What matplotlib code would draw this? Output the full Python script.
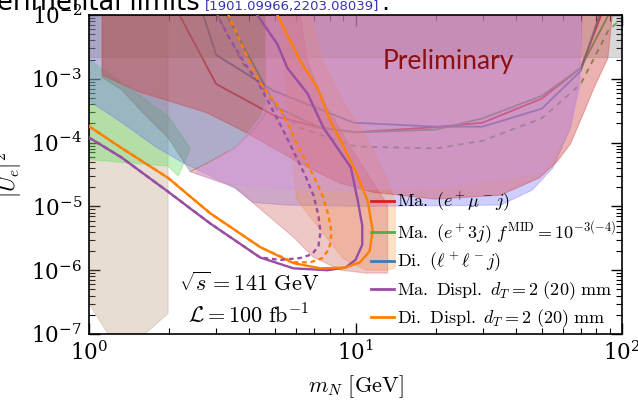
import matplotlib
matplotlib.use('Agg')
import matplotlib.pyplot as plt

plt.rcParams['mathtext.fontset'] = 'cm'
plt.rcParams['font.family'] = 'DejaVu Serif'

# --- data ---
# prompt searches
ma_emu_m = [2.0, 3.0, 5.0, 7.4, 10, 20, 30, 50, 70, 85]
ma_emu_u = [2.0e-2, 8.3e-4, 2.6e-4, 1.7e-4, 1.45e-4, 1.75e-4, 2.05e-4, 4.9e-4, 1.48e-3, 1.2e-2]

ma_e3j_m = [3.0, 5.05, 7.2, 10, 20, 30, 50, 70, 90]
ma_e3j_u = [2.0e-2, 3.6e-4, 1.78e-4, 1.44e-4, 1.6e-4, 2.4e-4, 5.4e-4, 1.48e-3, 1.1e-2]
ma_e3j_m4 = [3.03, 3.79, 4.5, 5.09, 6.2, 10, 20, 30, 50, 70, 88.6, 100]
ma_e3j_u4 = [1.0e-2, 1.7e-3, 7.2e-4, 3.2e-4, 1.7e-4, 8.7e-5, 8.1e-5, 1.07e-4, 2.4e-4, 8.3e-4, 5.6e-3, 9.0e-3]

di_ll_m = [2.5, 3.0, 4.92, 9.85, 20, 30, 50, 70, 85]
di_ll_u = [2.5e-2, 2.37e-3, 6.5e-4, 2.05e-4, 1.78e-4, 1.78e-4, 3.4e-4, 1.33e-3, 1.5e-2]

# displaced searches, d_T = 2 mm
ma_d2_m = [1.0, 1.32, 1.98, 2.85, 4.39, 5.85, 7.85, 9.17, 10.0, 10.6, 10.6, 10.2, 9.6, 7.59, 6.6, 5.55, 5.09, 4.28]
ma_d2_u = [1.2e-4, 5.9e-5, 1.7e-5, 5.4e-6, 1.58e-6, 1.07e-6, 1.0e-6, 1.1e-6, 1.45e-6, 2.5e-6, 5.0e-6, 1.23e-5, 4.1e-5, 1.7e-4, 5.9e-4, 1.48e-3, 3.5e-3, 1.0e-2]
di_d2_m = [1.0, 1.32, 1.98, 2.85, 4.39, 5.85, 7.39, 9.17, 10.4, 11.3, 11.6, 11.1, 10.0, 8.8, 8.05, 7.2, 6.2, 5.09]
di_d2_u = [1.8e-4, 8.3e-5, 2.8e-5, 7.8e-6, 2.3e-6, 1.29e-6, 1.07e-6, 1.1e-6, 1.33e-6, 2.0e-6, 4.2e-6, 1.23e-5, 3.6e-5, 1.07e-4, 2.2e-4, 7.2e-4, 1.9e-3, 1.0e-2]
# displaced searches, d_T = 20 mm
ma_d20_m = [1.0, 1.32, 1.98, 2.85, 4.39, 5.23, 6.2, 6.88, 7.26, 7.39, 7.26, 6.96, 6.49, 5.95, 5.36, 4.79, 4.28, 3.79, 3.3, 3.03]
ma_d20_u = [1.2e-4, 5.9e-5, 1.7e-5, 5.4e-6, 1.58e-6, 1.45e-6, 1.55e-6, 1.78e-6, 2.4e-6, 3.9e-6, 7.2e-6, 1.48e-5, 3.0e-5, 6.3e-5, 1.54e-4, 3.8e-4, 9.3e-4, 1.9e-3, 5.0e-3, 1.0e-2]
di_d20_m = [1.0, 1.32, 1.98, 2.85, 4.39, 5.85, 6.77, 7.52, 7.98, 8.13, 7.92, 7.52, 6.96, 6.2, 5.68, 5.2, 4.7, 4.28, 3.69, 3.33]
di_d20_u = [1.8e-4, 8.3e-5, 2.8e-5, 7.8e-6, 2.3e-6, 1.33e-6, 1.33e-6, 1.55e-6, 2.2e-6, 3.9e-6, 7.2e-6, 1.48e-5, 3.0e-5, 7.5e-5, 1.65e-4, 3.5e-4, 5.9e-4, 1.0e-3, 3.9e-3, 1.0e-2]

# existing limits (shaded)
tan_m = [1.0, 1.0, 1.18, 1.62, 1.98, 1.98]
tan_u = [1e-2, 3e-7, 1e-7, 1e-7, 2.1e-7, 1e-2]
grey_m = [1.0, 100, 100, 1.0]
grey_u = [1e-2, 1e-2, 2.2e-3, 2.2e-3]
green_m = [1.0, 1.5, 2.0, 2.4, 2.16, 1.98, 1.0]
green_u = [2e-3, 6e-4, 2.5e-4, 8e-5, 3.0e-5, 4.3e-5, 5.4e-5]
blue_m = [1.0, 1.0, 1.32, 1.77, 2.22, 2.73, 3.54, 4.14, 5.5, 11, 35, 46, 55, 64, 69, 71]
blue_u = [1e-2, 4.5e-4, 2.1e-4, 8.7e-5, 5.0e-5, 3.3e-5, 1.9e-5, 1.15e-5, 1.05e-5, 1.0e-5, 1.05e-5, 1.8e-5, 4e-5, 1.7e-4, 8e-4, 1e-2]
g2_m = [1.12, 1.12, 1.32, 1.62, 1.98, 2.4, 2.73, 3.54, 4.2, 4.6, 4.6]
g2_u = [1e-2, 1.05e-3, 6.8e-4, 2.75e-4, 1.2e-4, 3.5e-5, 4.6e-5, 8.3e-5, 1.7e-4, 2.8e-4, 1e-2]
salmon_m = [2.4, 3.54, 4.14, 5.85, 6.95, 8.8, 11, 13.2, 13.2, 11.7, 9.6, 7.85, 6.96, 6.6, 6.2, 4.6, 4.6, 4.2, 3.54, 2.73]
salmon_u = [3.5e-5, 2.0e-5, 1.12e-5, 3.3e-6, 1.6e-6, 1.0e-6, 9e-7, 9e-7, 1.05e-5, 2.3e-5, 8.3e-5, 3.5e-4, 1.05e-3, 1.9e-3, 1e-2, 1e-2, 2.8e-4, 1.7e-4, 8.3e-5, 4.6e-5]
peach_m = [6.0, 9.0, 11, 13.2, 14.1, 14.1, 13.0, 11.0, 9.0, 7.5, 6.8, 5.2]
peach_u = [1.3e-5, 1.5e-6, 1.0e-6, 1.0e-6, 1.1e-6, 1.2e-5, 3.0e-5, 1.2e-4, 4.5e-4, 2.0e-3, 1e-2, 1e-2]
red_m = [1.12, 1.12, 1.53, 2.73, 3.7, 4.9, 6.6, 8.8, 11.7, 20, 35, 49, 57, 64, 72, 78.5, 88.5, 92]
red_u = [1e-2, 1.15e-3, 6.3e-4, 3.0e-4, 1.6e-4, 8.3e-5, 4.1e-5, 2.3e-5, 1.66e-5, 1.3e-5, 1.5e-5, 2.8e-5, 5e-5, 9.5e-5, 3e-4, 7.2e-4, 2.1e-3, 1e-2]
mag_m = [4.6, 4.6, 4.4, 4.0, 3.54, 2.9, 2.5, 3.2, 5.0, 8.8, 20.9, 49.6, 64, 70, 70]
mag_u = [1e-2, 4e-4, 2.5e-4, 1.5e-4, 8.3e-5, 5e-5, 3.3e-5, 2.3e-5, 1.9e-5, 1.8e-5, 2.0e-5, 3.3e-5, 1.7e-4, 8.3e-4, 1e-2]

fig = plt.figure(figsize=(6.38, 4.03), dpi=100)
ax = fig.add_axes([89/638, 69/403, 533/638, 319/403])

# prompt lines sit under the shading
ax.plot(ma_emu_m, ma_emu_u, color='#e41a1c', lw=1.3, zorder=1)
ax.plot(ma_e3j_m, ma_e3j_u, color='#4daf4a', lw=1.3, zorder=1)
ax.plot(ma_e3j_m4, ma_e3j_u4, color='#4daf4a', lw=1.3, ls=(0, (3, 3)), zorder=1)
ax.plot(di_ll_m, di_ll_u, color='#377eb8', lw=1.3, zorder=1)

fills = [
    (tan_m, tan_u, '#b29170', 0.3),
    (green_m, green_u, '#55dd55', 0.35),
    (blue_m, blue_u, '#6060ff', 0.3),
    (grey_m, grey_u, '#808080', 0.3),
    (g2_m, g2_u, '#7a7a7a', 0.4),
    (peach_m, peach_u, '#ffa040', 0.3),
    (salmon_m, salmon_u, '#d06060', 0.35),
    (red_m, red_u, '#d04040', 0.4),
    (mag_m, mag_u, '#d098e0', 0.4),
]
for xs, ys, c, a in fills:
    ax.fill(xs, ys, color=c, alpha=a, lw=0.8, zorder=2)

ax.plot(ma_d2_m, ma_d2_u, color='#984ea3', lw=1.7, zorder=3)
ax.plot(di_d2_m, di_d2_u, color='#ff7f00', lw=1.7, zorder=3)
ax.plot(ma_d20_m, ma_d20_u, color='#984ea3', lw=1.7, ls=(0, (2, 1.6)), zorder=3)
ax.plot(di_d20_m, di_d20_u, color='#ff7f00', lw=1.7, ls=(0, (2, 1.6)), zorder=3)

# legend proxies
labels = [r'$\mathrm{Ma.}\ (e^+\mu^-j)$',
          r'$\mathrm{Ma.}\ (e^+3j)\ f^{\mathrm{MID}}=10^{-3(-4)}$',
          r'$\mathrm{Di.}\ (\ell^+\ell^-j)$',
          r'$\mathrm{Ma.\ Displ.}\ d_T=2\ (20)\ \mathrm{mm}$',
          r'$\mathrm{Di.\ Displ.}\ d_T=2\ (20)\ \mathrm{mm}$']
colors = ['#e41a1c', '#4daf4a', '#377eb8', '#984ea3', '#ff7f00']
handles = [plt.Line2D([], [], color=c, lw=2) for c in colors]
ax.legend(handles, labels, loc='lower left', bbox_to_anchor=(0.516, -0.01),
          frameon=False, fontsize=13, handlelength=1.25, handletextpad=0.15,
          labelspacing=0.28, borderaxespad=0)

ax.text(0.30, 0.155, r'$\sqrt{s}=141\ \mathrm{GeV}$', transform=ax.transAxes,
        fontsize=16, ha='center', va='center')
ax.text(0.30, 0.056, r'$\mathcal{L}=100\ \mathrm{fb}^{-1}$', transform=ax.transAxes,
        fontsize=16, ha='center', va='center')
ax.text(0.675, 0.853, 'Preliminary', transform=ax.transAxes, fontsize=19,
        family='Lato', color='#8b1010', ha='center', va='center')

ax.set_xscale('log')
ax.set_yscale('log')
ax.set_xlim(1, 100)
ax.set_ylim(1e-7, 1e-2)
ax.set_xlabel(r'$m_N\ [\mathrm{GeV}]$', fontsize=16, labelpad=6)
ax.set_ylabel(r'$|U_e|^2$', fontsize=16, labelpad=4)
ax.tick_params(which='both', direction='in', top=True, right=True, labelsize=15.5)
ax.tick_params(which='major', length=8, width=1, pad=5)
ax.tick_params(which='minor', length=4.5, width=0.8)
for s in ax.spines.values():
    s.set_linewidth(1.2)

fig.text(-0.005, 1 - 10/403, 'erimental limits', fontsize=18.5,
         family='DejaVu Sans', va='baseline')
fig.text(205/638, 1 - 10/403, '[1901.09966,2203.08039]', fontsize=9.5,
         family='DejaVu Sans', color='#3535b0', va='baseline')
fig.text(381/638, 1 - 10/403, '.', fontsize=18.5, family='DejaVu Sans', va='baseline')

fig.savefig('out.png', dpi=100)
